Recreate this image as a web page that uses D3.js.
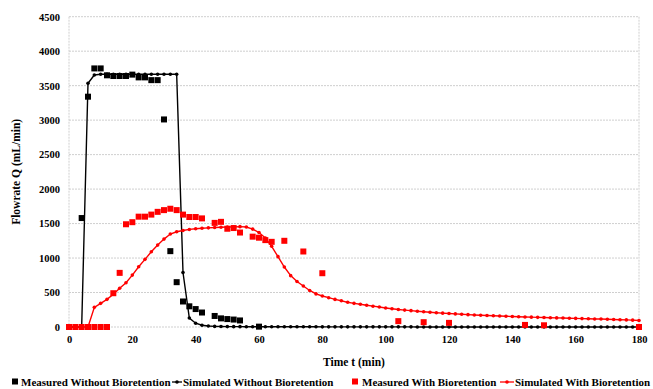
<!DOCTYPE html>
<html>
<head>
<meta charset="utf-8">
<script src="https://cdn.jsdelivr.net/npm/d3@7"></script>
<style>
  body { margin: 0; background: #fff; }
  svg text { font-family: "Liberation Serif", "Times New Roman", serif; font-weight: bold; fill: #000; }
</style>
</head>
<body>
<svg id="chart"></svg>
<script>
//Data (t in min, Q in mL/min)
const xTicks = [0, 20, 40, 60, 80, 100, 120, 140, 160, 180];
const yTicks = [0, 500, 1000, 1500, 2000, 2500, 3000, 3500, 4000, 4500];

const measuredWithout = [
  [4, 1580], [6, 3340], [8, 3750], [10, 3750], [12, 3650], [14, 3640], [16, 3640], [18, 3640],
  [20, 3660], [22, 3620], [24, 3620], [26, 3580], [28, 3580], [30, 3010], [32, 1100], [34, 650],
  [36, 370], [38, 300], [40, 260], [42, 210], [46, 160], [48, 125], [50, 115], [52, 108], [54, 95], [60, 5]
];

const simulatedWithout = [
  [0, 0], [2, 0], [4, 0], [6, 3535], [8, 3655], [10, 3665], [12, 3665], [14, 3665], [16, 3665],
  [18, 3665], [20, 3665], [22, 3665], [24, 3665], [26, 3665], [28, 3665], [30, 3665], [32, 3665],
  [34, 3665], [36, 790], [38, 130], [40, 55], [42, 25], [44, 14], [46, 9], [48, 7], [50, 6], [52, 5],
  [54, 5], [56, 4], [58, 4], [60, 4], [62, 4], [64, 3], [66, 3], [68, 3], [70, 3], [72, 3], [74, 3],
  [76, 3], [78, 3], [80, 2], [82, 2], [84, 2], [86, 2], [88, 2], [90, 2], [92, 2], [94, 2], [96, 2],
  [98, 2], [100, 2], [102, 2], [104, 2], [106, 2], [108, 2], [110, 1], [112, 1], [114, 1], [116, 1],
  [118, 1], [120, 1], [122, 1], [124, 1], [126, 1], [128, 1], [130, 1], [132, 1], [134, 1], [136, 1],
  [138, 1], [140, 1], [142, 1], [144, 1], [146, 1], [148, 1], [150, 1], [152, 1], [154, 1], [156, 1],
  [158, 1], [160, 1], [162, 1], [164, 1], [166, 1], [168, 1], [170, 1], [172, 1], [174, 1], [176, 1],
  [178, 1], [180, 1]
];

const measuredWith = [
  [0, 0], [2, 0], [4, 0], [6, 0], [8, 0], [10, 0], [12, 0], [14, 490], [16, 785], [18, 1490],
  [20, 1520], [22, 1600], [24, 1600], [26, 1630], [28, 1670], [30, 1695], [32, 1715], [34, 1695],
  [36, 1630], [38, 1595], [40, 1595], [42, 1575], [46, 1510], [48, 1525], [50, 1425], [52, 1435],
  [54, 1370], [58, 1310], [60, 1295], [62, 1260], [64, 1235], [68, 1250], [74, 1095], [80, 780],
  [104, 85], [112, 70], [120, 60], [144, 30], [150, 25], [180, 0]
];

const simulatedWith = [
  [0, 0], [2, 0], [4, 0], [6, 0], [8, 285], [10, 343], [12, 401], [14, 474], [16, 561], [18, 642],
  [20, 753], [22, 874], [24, 981], [26, 1091], [28, 1188], [30, 1275], [32, 1348], [34, 1381],
  [36, 1400], [38, 1415], [40, 1425], [42, 1432], [44, 1438], [46, 1442], [48, 1446], [50, 1450],
  [52, 1452], [54, 1455], [56, 1450], [58, 1420], [60, 1370], [62, 1290], [64, 1170], [66, 1020],
  [68, 870], [70, 745], [72, 660], [74, 595], [76, 530], [78, 480], [80, 450], [82, 425], [84, 400],
  [86, 380], [88, 358], [90, 343], [92, 330], [94, 315], [96, 302], [98, 290], [100, 275], [102, 264],
  [104, 254], [106, 245], [108, 237], [110, 229], [112, 221], [114, 214], [116, 207], [118, 201],
  [120, 195], [122, 190], [124, 184], [126, 179], [128, 175], [130, 171], [132, 167], [134, 163],
  [136, 159], [138, 156], [140, 152], [142, 149], [144, 146], [146, 143], [148, 140], [150, 137],
  [152, 135], [154, 132], [156, 130], [158, 127], [160, 125], [162, 122], [164, 120], [166, 117],
  [168, 115], [170, 112], [172, 109], [174, 106], [176, 103], [178, 99], [180, 95]
];

const legendLabels = ["Measured Without Bioretention", "Simulated Without Bioretention",
                      "Measured With Bioretention", "Simulated With Bioretention"];

drawChart();

function drawChart(){
  const w = 653;
  const h = 389;
  const left = 69, right = 639, top = 16.7, bottom = 327;

  const xScale = d3.scaleLinear().domain([0, 180]).range([left, right]);
  const yScale = d3.scaleLinear().domain([0, 4500]).range([bottom, top]);

  const chart = d3.select("#chart")
                  .attr("width", w)
                  .attr("height", h);

  //Gridlines
  chart.append("g")
       .selectAll("line")
       .data(yTicks)
       .enter()
       .append("line")
       .attr("x1", left)
       .attr("x2", right)
       .attr("y1", d => yScale(d))
       .attr("y2", d => yScale(d))
       .attr("stroke", "#cfcfcf")
       .attr("stroke-width", 1)
       .attr("stroke-dasharray", "2,1");

  chart.append("g")
       .selectAll("line")
       .data([0, 180])
       .enter()
       .append("line")
       .attr("x1", d => xScale(d))
       .attr("x2", d => xScale(d))
       .attr("y1", top)
       .attr("y2", bottom)
       .attr("stroke", "#cfcfcf")
       .attr("stroke-width", 1)
       .attr("stroke-dasharray", "2,1");

  //Axes
  const yAxis = d3.axisLeft(yScale).tickValues(yTicks).tickSize(0).tickPadding(9).tickFormat(d3.format("d"));
  const gy = chart.append("g")
       .attr("transform", "translate(" + left + ", 0)")
       .call(yAxis);
  gy.select(".domain").remove();
  gy.selectAll("text").style("font-size", "10.5px").style("font-family", "'Liberation Serif', serif");

  const xAxis = d3.axisBottom(xScale).tickValues(xTicks).tickSize(0).tickPadding(9).tickFormat(d3.format("d"));
  const gx = chart.append("g")
       .attr("transform", "translate(0, " + bottom + ")")
       .call(xAxis);
  gx.select(".domain").remove();
  gx.selectAll("text").style("font-size", "10.5px").style("font-family", "'Liberation Serif', serif");

  //Axis titles
  chart.append("text")
       .attr("transform", "translate(20, " + ((top + bottom) / 2) + ") rotate(-90)")
       .attr("text-anchor", "middle")
       .style("font-size", "11.5px")
       .text("Flowrate Q (mL/min)");

  chart.append("text")
       .attr("x", (left + right) / 2)
       .attr("y", 366)
       .attr("text-anchor", "middle")
       .style("font-size", "11.5px")
       .text("Time t (min)");

  const line = d3.line().x(d => xScale(d[0])).y(d => yScale(d[1]));

  //Series (Excel order: later series on top)
  drawSquares(chart, measuredWithout, "#000", xScale, yScale);
  drawSim(chart, simulatedWithout, "#000", line, xScale, yScale);
  drawSquares(chart, measuredWith, "#ff0000", xScale, yScale);
  drawSim(chart, simulatedWith, "#ff0000", line, xScale, yScale);

  //Legend
  const legendY = 386;
  const fs = "11px";
  const lg = chart.append("g");
  lg.append("rect").attr("x", 12).attr("y", legendY - 7.5).attr("width", 6).attr("height", 6).attr("fill", "#000");
  lg.append("text").attr("x", 21).attr("y", legendY).style("font-size", fs).text(legendLabels[0]);
  lg.append("line").attr("x1", 172).attr("x2", 182).attr("y1", legendY - 4).attr("y2", legendY - 4).attr("stroke", "#000").attr("stroke-width", 1.3);
  lg.append("circle").attr("cx", 177).attr("cy", legendY - 4).attr("r", 1.8).attr("fill", "#000");
  lg.append("text").attr("x", 183).attr("y", legendY).style("font-size", fs).text(legendLabels[1]);
  lg.append("rect").attr("x", 352).attr("y", legendY - 7.5).attr("width", 6).attr("height", 6).attr("fill", "#ff0000");
  lg.append("text").attr("x", 362).attr("y", legendY).style("font-size", fs).text(legendLabels[2]);
  lg.append("line").attr("x1", 500).attr("x2", 514).attr("y1", legendY - 4).attr("y2", legendY - 4).attr("stroke", "#ff0000").attr("stroke-width", 1.3);
  lg.append("circle").attr("cx", 507).attr("cy", legendY - 4).attr("r", 1.8).attr("fill", "#ff0000");
  lg.append("text").attr("x", 515).attr("y", legendY).style("font-size", fs).text(legendLabels[3]);
};

function drawSquares(chart, data, color, xScale, yScale){
  const s = 6;
  chart.append("g")
       .selectAll("rect")
       .data(data)
       .enter()
       .append("rect")
       .attr("x", d => xScale(d[0]) - s / 2)
       .attr("y", d => yScale(d[1]) - s / 2)
       .attr("width", s)
       .attr("height", s)
       .attr("fill", color);
};

function drawSim(chart, data, color, line, xScale, yScale){
  chart.append("path")
       .datum(data)
       .attr("d", line)
       .attr("fill", "none")
       .attr("stroke", color)
       .attr("stroke-width", 1.4);

  chart.append("g")
       .selectAll("circle")
       .data(data)
       .enter()
       .append("circle")
       .attr("cx", d => xScale(d[0]))
       .attr("cy", d => yScale(d[1]))
       .attr("r", 1.8)
       .attr("fill", color);
};
</script>
</body>
</html>
